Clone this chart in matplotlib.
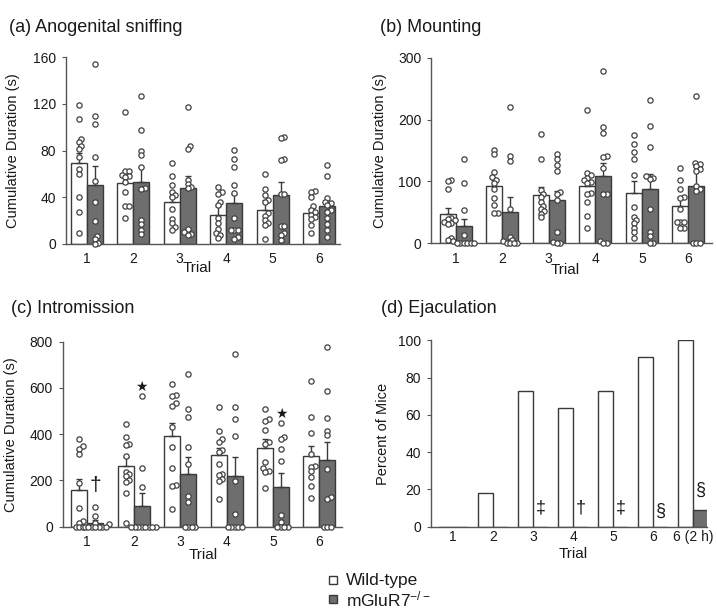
import matplotlib
matplotlib.use('Agg')
import matplotlib.pyplot as plt
import numpy as np
from matplotlib.lines import Line2D

plt.rcParams['font.family'] = ['Liberation Sans', 'DejaVu Sans']
plt.rcParams['mathtext.default'] = 'regular'

# ---------------- data ----------------
trials = ['1', '2', '3', '4', '5', '6']
trials_d = ['1', '2', '3', '4', '5', '6', '6 (2 h)']

# (a) Anogenital sniffing
a_wt_mean = [69, 52.5, 36, 24.7, 29, 26]
a_wt_err = [9, 6, 5, 8, 8.5, 4]
a_ko_mean = [50.3, 53.3, 47.5, 34.7, 41.8, 32.4]
a_ko_err = [16.7, 12.3, 10.5, 8, 11, 3]
a_wt_pts = [
    [119, 107, 90, 87, 84, 81, 74, 64, 60, 40, 27, 9.5],
    [113, 62, 62, 59, 58, 57, 53, 44, 32, 32, 22],
    [69, 58, 50, 44, 42, 40, 30, 21, 17.5, 14, 12],
    [49, 44, 42.5, 36, 33, 22, 18, 12.3, 9.5, 7.5, 4.6],
    [60, 46.6, 42, 37.5, 36, 26, 24, 20, 18, 16, 3.7],
    [45, 44, 40, 32, 29, 27, 25, 23, 21, 16, 9.5],
]
a_ko_pts = [
    [154, 110, 103, 74, 54, 36, 19.5, 7, 4, 1, 0],
    [127, 98, 80, 76, 66, 48, 47, 20, 16.6, 11.7, 8],
    [117, 84, 81, 55, 51, 48.5, 47.5, 13, 10, 8, 7.5],
    [80.5, 73, 66, 50.4, 43.8, 22.3, 11.8, 11.8, 11.8, 6, 3.8],
    [92, 91, 72.5, 72, 43, 43, 15.5, 15.5, 9.5, 7.5, 3.2],
    [67.6, 58.4, 39.5, 36, 35, 33, 29, 27.5, 21.8, 16.7, 11.8, 6],
]

# (b) Mounting
b_wt_mean = [47, 92.6, 78, 92.6, 81, 60]
b_wt_err = [9.5, 10, 12.5, 9.5, 20, 15]
b_ko_mean = [27.5, 51, 70, 108.6, 87.8, 92.6]
b_ko_err = [12.5, 24, 15, 21.4, 24, 31]
b_wt_pts = [
    [103, 100, 88, 41, 39, 37, 35, 33, 32, 8, 5],
    [151, 144, 115, 107, 103, 98, 87, 74, 62, 49, 49],
    [176, 136, 86, 80, 75, 67, 60, 55, 52, 48, 42],
    [215, 114, 110, 106, 102, 99, 98, 82, 80, 67, 44, 25],
    [175, 160, 147, 136, 111, 59, 43, 38, 33, 25, 19, 8],
    [121, 102, 88, 75, 74, 55, 34, 34, 34, 25, 24],
]
b_ko_pts = [
    [136, 97, 54, 14, 4, 0, 0, 0, 0, 0, 0],
    [221, 141, 133, 56, 10, 5, 3, 1, 0, 0, 0],
    [144, 136, 127, 117, 83, 80, 70, 18, 2, 0, 0],
    [279, 188, 178, 141, 140, 121, 80, 79, 4, 0, 0],
    [232, 190, 155, 108, 106, 104, 55, 19, 11, 0, 0],
    [238, 130, 128, 125, 120, 117, 92, 88, 85, 0, 0, 0],
]

# (c) Intromission
c_wt_mean = [157, 264, 392, 310, 339, 306]
c_wt_err = [49, 39, 55, 32, 39, 44]
c_ko_mean = [14, 89, 228, 219, 173, 288]
c_ko_err = [15, 55, 72, 81, 58, 77]
c_wt_pts = [
    [380, 350, 338, 314, 187, 79, 26, 17, 0, 0, 0],
    [444, 386, 357, 352, 305, 238, 230, 220, 202, 195, 147, 17],
    [615, 569, 565, 533, 522, 432, 346, 252, 180, 177, 75],
    [516, 414, 378, 368, 331, 324, 271, 230, 223, 205, 199, 118],
    [509, 464, 458, 418, 368, 356, 278, 252, 242, 238, 169],
    [630, 476, 406, 314, 262, 259, 241, 216, 177, 125],
]
c_ko_pts = [
    [84, 48, 17, 10, 0, 0, 0, 0, 0, 0, 0],
    [565, 255, 173, 0, 0, 0, 0, 0, 0, 0, 0],
    [660, 509, 473, 343, 270, 134, 105, 0, 0, 0, 0],
    [747, 519, 466, 392, 197, 53, 0, 0, 0, 0, 0],
    [450, 386, 378, 336, 284, 50, 22, 0, 0, 0, 0],
    [778, 588, 468, 414, 396, 249, 130, 118, 0, 0, 0],
]
c_marks = [('\u2020', 1, 180, 15), ('\u2605', 2, 603, 10), ('\u2605', 5, 486, 10)]

# (d) Ejaculation (percent of mice)
d_wt = [0, 18.2, 72.7, 63.6, 72.7, 90.9, 100]
d_ko = [0, 0, 0, 0, 0, 0, 9.1]
d_marks = [('\u2021', 3, 10), ('\u2020', 4, 10), ('\u2021', 5, 10),
           ('\u00a7', 6, 8.5), ('\u00a7', 7, 19.5)]

# ---------------- style ----------------
EDGE = '#3a3a3a'
DARK = '#6e6e6e'
SPINE = '#555555'
TXT = '#1a1a1a'
W = 717
H = 609

fig = plt.figure(figsize=(W / 100, H / 100), dpi=100)


def px_axes(l, r, b, t):
    return fig.add_axes([l / W, 1 - b / H, (r - l) / W, (b - t) / H])


def style_axes(ax, yticks, ylim, xlim, xt, xtl, xpad=6):
    ax.set_xlim(*xlim)
    ax.set_ylim(*ylim)
    for s in ['top', 'right']:
        ax.spines[s].set_visible(False)
    for s in ['left', 'bottom']:
        ax.spines[s].set_color(SPINE)
        ax.spines[s].set_linewidth(1.0)
    ax.set_yticks(yticks)
    ax.set_xticks(xt)
    ax.set_xticklabels(xtl)
    ax.tick_params(axis='y', direction='out', length=3, width=0.8, color=SPINE,
                   labelsize=10, pad=4, labelcolor=TXT)
    ax.tick_params(axis='x', length=0, labelsize=10, pad=xpad, labelcolor=TXT)


def swarm_offsets(ax, xc, vals, diam=5.0):
    # place dots with a minimum pixel distance (beeswarm layout)
    t = ax.transData
    ypx = [t.transform((xc, v))[1] for v in vals]
    pxu = t.transform((1, 0))[0] - t.transform((0, 0))[0]
    placed = []
    order = np.argsort(ypx)
    res = [0.0] * len(vals)
    step = diam * 0.35
    for i in order:
        y = ypx[i]
        k = 0
        while True:
            cands = [0.0] if k == 0 else [k * step, -k * step]
            ok = None
            for c in cands:
                if all((c - px) ** 2 + (y - py) ** 2 >= (diam * 0.7) ** 2 for px, py in placed):
                    ok = c
                    break
            if ok is not None:
                placed.append((ok, y))
                res[i] = ok / pxu
                break
            k += 1
    return [xc + r for r in res]


def draw_bars(ax, wt_m, wt_e, ko_m, ko_e, wt_p, ko_p, bw):
    x = np.arange(1, len(wt_m) + 1)
    xw = x - bw / 2
    xk = x + bw / 2
    ax.bar(xw, wt_m, bw, color='white', edgecolor=EDGE, linewidth=1.0, zorder=2)
    ax.bar(xk, ko_m, bw, color=DARK, edgecolor=EDGE, linewidth=1.0, zorder=2)
    ax.errorbar(xw, wt_m, yerr=[np.zeros(len(wt_m)), wt_e], fmt='none', ecolor=EDGE,
                elinewidth=1.0, capsize=2.5, capthick=1.0, zorder=3)
    ax.errorbar(xk, ko_m, yerr=[np.zeros(len(ko_m)), ko_e], fmt='none', ecolor=EDGE,
                elinewidth=1.0, capsize=2.5, capthick=1.0, zorder=3)
    for i in range(len(wt_m)):
        for xc, pts in ((xw[i], wt_p[i]), (xk[i], ko_p[i])):
            xs = swarm_offsets(ax, xc, pts)
            ax.plot(xs, pts, 'o', ms=3.8, mfc='white', mec='#404040', mew=0.9,
                    zorder=4, clip_on=False)
    return xw, xk


def labels(ax, title_xy, title, ylab, ylab_x, trial_xy):
    fig.text(title_xy[0] / W, 1 - title_xy[1] / H, title, fontsize=13, color=TXT,
             va='center', ha='left')
    ax.set_ylabel(ylab, fontsize=10.5, color=TXT)
    ax.yaxis.set_label_coords(ylab_x, 0.5)
    ax.text(trial_xy[0], trial_xy[1], 'Trial', transform=ax.transAxes, fontsize=11,
            ha='center', va='center', color=TXT)


# (a)
axa = px_axes(66, 340, 243.7, 57.3)
style_axes(axa, [0, 40, 80, 120, 160], (0, 160), (0.55, 6.45), range(1, 7), trials)
draw_bars(axa, a_wt_mean, a_wt_err, a_ko_mean, a_ko_err, a_wt_pts, a_ko_pts, 0.344)
labels(axa, (9, 27), '(a) Anogenital sniffing', 'Cumulative Duration (s)', -0.168, (0.478, -0.13))

# (b)
axb = px_axes(431, 711.7, 243.3, 57.7)
style_axes(axb, [0, 100, 200, 300], (0, 300), (0.47, 6.5), range(1, 7), trials)
draw_bars(axb, b_wt_mean, b_wt_err, b_ko_mean, b_ko_err, b_wt_pts, b_ko_pts, 0.344)
labels(axb, (380, 27), '(b) Mounting', 'Cumulative Duration (s)', -0.158, (0.477, -0.145))

# (c)
axc = px_axes(62.7, 341.7, 526.7, 341.7)
style_axes(axc, [0, 200, 400, 600, 800], (0, 800), (0.47, 6.48), range(1, 7), trials)
xw, xk = draw_bars(axc, c_wt_mean, c_wt_err, c_ko_mean, c_ko_err, c_wt_pts, c_ko_pts, 0.344)
labels(axc, (11, 308), '(c) Intromission', 'Cumulative Duration (s)', -0.159, (0.503, -0.153))
for s, t, y, fs in c_marks:
    axc.text(xk[t - 1], y, s, ha='center', va='center', fontsize=fs, color=TXT,
             family=['DejaVu Sans'] if s == '\u2605' else ['Liberation Sans', 'DejaVu Sans'],
             zorder=5)

# (d)
axd = px_axes(430.7, 706.7, 526.7, 340.3)
style_axes(axd, [0, 20, 40, 60, 80, 100], (0, 100), (0.44, 7.34), range(1, 8), trials_d, xpad=2.5)
bw = 0.375
xd = np.arange(1, 8)
axd.bar(xd - bw / 2, d_wt, bw, color='white', edgecolor=EDGE, linewidth=1.0, zorder=2)
axd.bar(xd + bw / 2, d_ko, bw, color=DARK, edgecolor=EDGE, linewidth=1.0, zorder=2)
labels(axd, (381, 308), '(d) Ejaculation', 'Percent of Mice', -0.147, (0.516, -0.145))
for s, t, y in d_marks:
    axd.text(t + bw / 2, y, s, ha='center', va='center', fontsize=13, color=TXT, zorder=5)

# legend
for (yy, fc, lab) in ((580, 'white', 'Wild-type'), (599, DARK, 'mGluR7$^{\\mathregular{-/-}}$')):
    fig.add_artist(Line2D([333 / W], [1 - yy / H], marker='s', ms=6, mfc=fc, mec=EDGE,
                          mew=1.0, transform=fig.transFigure, linestyle='none'))
    fig.text(346 / W, 1 - yy / H, lab, fontsize=12.5, va='center', ha='left', color=TXT)

fig.savefig('out.png', dpi=100)
